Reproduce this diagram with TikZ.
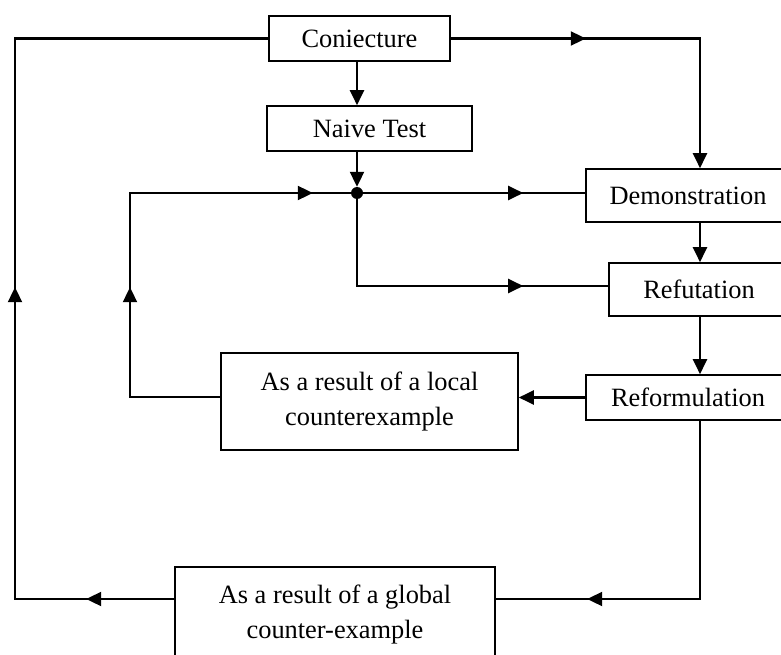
\documentclass[tikz,border=0pt]{standalone}
\usepackage{fontspec}
\setmainfont{Liberation Serif}
\usetikzlibrary{arrows.meta,decorations.markings}
\begin{document}
\begin{tikzpicture}[x=1pt,y=-1pt,
  box/.style={draw,line width=1.6pt,inner sep=0pt,align=center,
    font=\fontsize{26.4}{35}\selectfont},
  conn/.style={line width=2.1pt},
  tip/.style={-{Triangle[length=15pt,width=14pt]}},
  midarrow/.style={postaction={decorate,decoration={markings,
    mark=at position #1 with {\arrow{Triangle[length=15pt,width=14pt]}}}}}]
\useasboundingbox (0,0) rectangle (781,655);
\clip (0,0) rectangle (781,655);
% boxes
\node[box,minimum width=181pt,minimum height=45pt] (conj) at (359.5,38.5) {Coniecture};
\node[box,minimum width=205pt,minimum height=45pt] (naive) at (369.5,128.5) {Naive Test};
\node[box,minimum width=204pt,minimum height=53pt] (demo) at (688,195.5) {Demonstration};
\node[box,minimum width=180pt,minimum height=53pt] (refut) at (699,289.5) {Refutation};
\node[box,minimum width=204pt,minimum height=45pt] (reform) at (688,397.5) {Reformulation};
\node[box,minimum width=297pt,minimum height=97pt] (local) at (369.5,401.5) {As a result of a local\\counterexample};
\node[box,minimum width=320pt,minimum height=95pt] (global) at (335,614.5) {As a result of a global\\counter-example};
\node[circle,fill,inner sep=0pt,minimum size=12pt] (dot) at (357,193) {};
% helper coordinates
\coordinate (col) at (700,0);
\coordinate (lx) at (130,0);
\coordinate (ox) at (15,0);
\coordinate (grow) at (0,599);
\coordinate (ry) at (0,286);
\coordinate (ly) at (0,397);
% connectors
\draw[conn,midarrow=88pt,midarrow=471pt] (global.west |- grow) -- (ox |- grow) -- (ox |- conj.west) -- (conj.west);
\draw[conn,tip,midarrow=135pt] (conj.east) -- (col |- conj.east) -- (col |- demo.north);
\draw[conn,tip] (dot |- conj.south) -- (dot |- naive.north);
\draw[conn,tip] (dot |- naive.south) -- (dot.north);
\draw[conn,midarrow=200pt,midarrow=477pt] (local.west |- ly) -- (lx |- ly) -- (dot -| lx) -- (dot);
\draw[conn,midarrow=160pt] (dot) -- (dot -| demo.west);
\draw[conn,midarrow=253pt] (dot) -- (dot |- ry) -- (refut.west |- ry);
\draw[conn,tip] (col |- demo.south) -- (col |- refut.north);
\draw[conn,tip] (col |- refut.south) -- (col |- reform.north);
\draw[conn,tip] (reform.west) -- (local.east |- reform.west);
\draw[conn,midarrow=291pt] (col |- reform.south) -- (col |- grow) -- (global.east |- grow);
\end{tikzpicture}
\end{document}
